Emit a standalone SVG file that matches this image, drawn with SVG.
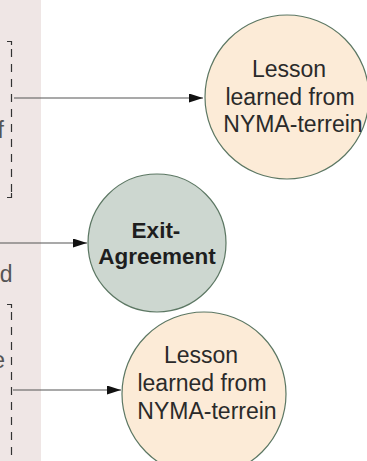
<svg xmlns="http://www.w3.org/2000/svg" width="367" height="461" viewBox="0 0 367 461">
  <style>
    .panel { fill: #efe6e5; }
    .bracket { fill: none; stroke: #333; stroke-width: 1.2; }
    .dash { stroke-dasharray: 8 7; }
    .edge { fill: none; stroke: #555; stroke-width: 1.2; }
    .lesson { fill: #fcebd7; stroke: #5c7763; stroke-width: 1.2; }
    .exit { fill: #cdd7d0; stroke: #5c7763; stroke-width: 1.2; }
    .label { font-family: "Liberation Sans", Arial, sans-serif; font-size: 23px; fill: #2a2a2a; text-anchor: middle; }
    .bold { font-weight: bold; font-size: 22.5px; fill: #1e1e1e; }
    .side { font-family: "Liberation Sans", Arial, sans-serif; font-size: 23px; fill: #555; text-anchor: end; }
  </style>
  <defs>
    <marker id="arrow" viewBox="0 0 14 9" refX="14" refY="4.5" markerWidth="14" markerHeight="9" markerUnits="userSpaceOnUse" orient="auto">
      <path d="M0,0 L14,4.5 L0,9 Z" fill="#111"/>
    </marker>
  </defs>

  <!-- left side panel with bracketed notes -->
  <g id="side-panel">
    <rect class="panel" x="0" y="0" width="41" height="461"/>
    <text class="side" x="4" y="138">f</text>
    <text class="side" x="12.5" y="282">d</text>
    <text class="side" x="5" y="368">e</text>
    <path class="bracket" d="M7,41.5 H11.5 V45"/>
    <path class="bracket dash" d="M11.5,49 V193"/>
    <path class="bracket" d="M11.5,193 V197.5 H7"/>
    <path class="bracket" d="M7,304.5 H11.5 V308"/>
    <path class="bracket dash" d="M11.5,312 V461"/>
  </g>

  <!-- connectors -->
  <g id="connectors">
    <line class="edge" x1="14" y1="98" x2="203" y2="98" marker-end="url(#arrow)"/>
    <line class="edge" x1="0" y1="243" x2="87" y2="243" marker-end="url(#arrow)"/>
    <line class="edge" x1="13" y1="390" x2="121" y2="390" marker-end="url(#arrow)"/>
  </g>

  <g id="lesson-top">
    <circle class="lesson" cx="287" cy="97" r="82"/>
    <text class="label" x="289" y="77">Lesson</text>
    <text class="label" x="290" y="104.5">learned from</text>
    <text class="label" x="293" y="132">NYMA-terrein</text>
  </g>

  <g id="exit-agreement">
    <circle class="exit" cx="157" cy="243" r="69"/>
    <text class="label bold" x="156" y="238">Exit-</text>
    <text class="label bold" x="157" y="264">Agreement</text>
  </g>

  <g id="lesson-bottom">
    <circle class="lesson" cx="204" cy="394" r="82"/>
    <text class="label" x="201" y="363">Lesson</text>
    <text class="label" x="202" y="391">learned from</text>
    <text class="label" x="207" y="419">NYMA-terrein</text>
  </g>
</svg>
